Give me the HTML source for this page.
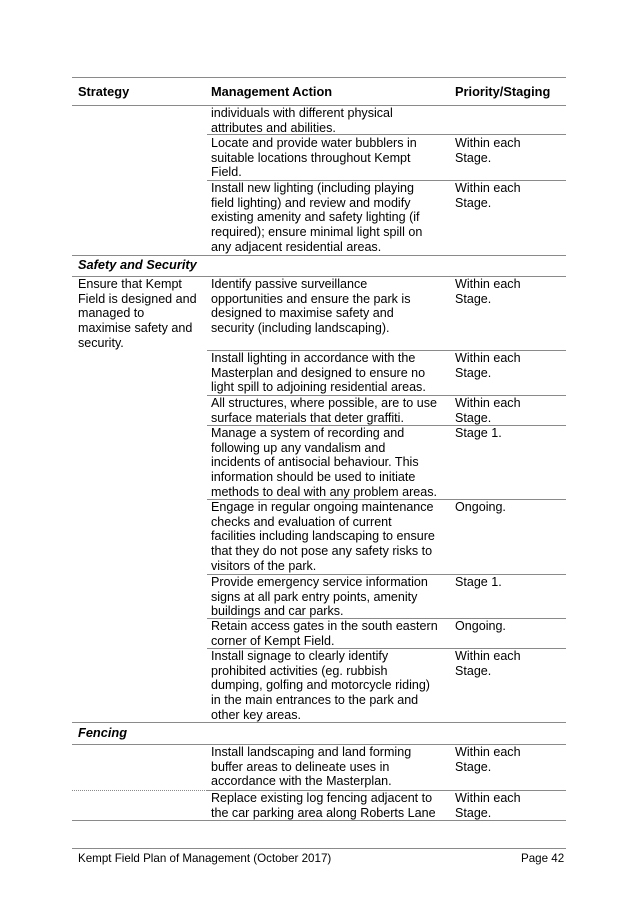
<!DOCTYPE html>
<html><head><meta charset="utf-8"><style>
body{margin:0;background:#fff;}
#p{position:relative;width:637px;height:901px;overflow:hidden;font-family:"Liberation Sans",Arial,sans-serif;font-size:12.55px;color:#000;}
.t{position:absolute;line-height:14.7px;white-space:nowrap;margin-top:1px;}
.b{font-weight:bold;font-size:12.8px;}
.i{font-weight:bold;font-style:italic;font-size:12.8px;}
.l{position:absolute;height:1px;background:#8a8a8a;}
.d{position:absolute;height:0;border-top:1px dotted #8a8a8a;}
</style></head><body><div id="p">
<div class="l" style="left:72px;width:494px;top:77px"></div>
<div class="t b" style="left:78px;top:84px">Strategy</div>
<div class="t b" style="left:211px;top:84px">Management Action</div>
<div class="t b" style="left:455px;top:84px">Priority/Staging</div>
<div class="l" style="left:72px;width:494px;top:105px"></div>

<div class="t" style="left:211px;top:105px">individuals with different physical<br>attributes and abilities.</div>
<div class="l" style="left:207px;width:359px;top:134px"></div>
<div class="t" style="left:211px;top:135px">Locate and provide water bubblers in<br>suitable locations throughout Kempt<br>Field.</div>
<div class="t" style="left:455px;top:135px">Within each<br>Stage.</div>
<div class="l" style="left:207px;width:359px;top:180px"></div>
<div class="t" style="left:211px;top:180px">Install new lighting (including playing<br>field lighting) and review and modify<br>existing amenity and safety lighting (if<br>required); ensure minimal light spill on<br>any adjacent residential areas.</div>
<div class="t" style="left:455px;top:180px">Within each<br>Stage.</div>
<div class="l" style="left:72px;width:494px;top:255px"></div>
<div class="t i" style="left:78px;top:257px">Safety and Security</div>
<div class="l" style="left:72px;width:494px;top:276px"></div>
<div class="t" style="left:78px;top:276px">Ensure that Kempt<br>Field is designed and<br>managed to<br>maximise safety and<br>security.</div>
<div class="t" style="left:211px;top:276px">Identify passive surveillance<br>opportunities and ensure the park is<br>designed to maximise safety and<br>security (including landscaping).</div>
<div class="t" style="left:455px;top:276px">Within each<br>Stage.</div>
<div class="l" style="left:207px;width:359px;top:350px"></div>
<div class="t" style="left:211px;top:350px">Install lighting in accordance with the<br>Masterplan and designed to ensure no<br>light spill to adjoining residential areas.</div>
<div class="t" style="left:455px;top:350px">Within each<br>Stage.</div>
<div class="l" style="left:207px;width:359px;top:395px"></div>
<div class="t" style="left:211px;top:395px">All structures, where possible, are to use<br>surface materials that deter graffiti.</div>
<div class="t" style="left:455px;top:395px">Within each<br>Stage.</div>
<div class="l" style="left:207px;width:359px;top:425px"></div>
<div class="t" style="left:211px;top:425px">Manage a system of recording and<br>following up any vandalism and<br>incidents of antisocial behaviour. This<br>information should be used to initiate<br>methods to deal with any problem areas.</div>
<div class="t" style="left:455px;top:425px">Stage 1.</div>
<div class="l" style="left:207px;width:359px;top:499px"></div>
<div class="t" style="left:211px;top:499px">Engage in regular ongoing maintenance<br>checks and evaluation of current<br>facilities including landscaping to ensure<br>that they do not pose any safety risks to<br>visitors of the park.</div>
<div class="t" style="left:455px;top:499px">Ongoing.</div>
<div class="l" style="left:207px;width:359px;top:574px"></div>
<div class="t" style="left:211px;top:574px">Provide emergency service information<br>signs at all park entry points, amenity<br>buildings and car parks.</div>
<div class="t" style="left:455px;top:574px">Stage 1.</div>
<div class="l" style="left:207px;width:359px;top:618px"></div>
<div class="t" style="left:211px;top:618px">Retain access gates in the south eastern<br>corner of Kempt Field.</div>
<div class="t" style="left:455px;top:618px">Ongoing.</div>
<div class="l" style="left:207px;width:359px;top:648px"></div>
<div class="t" style="left:211px;top:648px">Install signage to clearly identify<br>prohibited activities (eg. rubbish<br>dumping, golfing and motorcycle riding)<br>in the main entrances to the park and<br>other key areas.</div>
<div class="t" style="left:455px;top:648px">Within each<br>Stage.</div>
<div class="l" style="left:72px;width:494px;top:722px"></div>
<div class="t i" style="left:78px;top:725px">Fencing</div>
<div class="l" style="left:72px;width:494px;top:744px"></div>
<div class="t" style="left:211px;top:744px">Install landscaping and land forming<br>buffer areas to delineate uses in<br>accordance with the Masterplan.</div>
<div class="t" style="left:455px;top:744px">Within each<br>Stage.</div>
<div class="d" style="left:72px;width:135px;top:790px"></div>
<div class="l" style="left:207px;width:359px;top:790px"></div>
<div class="t" style="left:211px;top:790px">Replace existing log fencing adjacent to<br>the car parking area along Roberts Lane</div>
<div class="t" style="left:455px;top:790px">Within each<br>Stage.</div>
<div class="l" style="left:72px;width:494px;top:820px"></div>

<div class="l" style="left:72px;width:494px;top:848px"></div>
<div class="t" style="left:78px;top:851px;font-size:11.6px">Kempt Field Plan of Management (October 2017)</div>
<div class="t" style="left:521px;top:851px;font-size:11.6px">Page 42</div>
</div></body></html>
